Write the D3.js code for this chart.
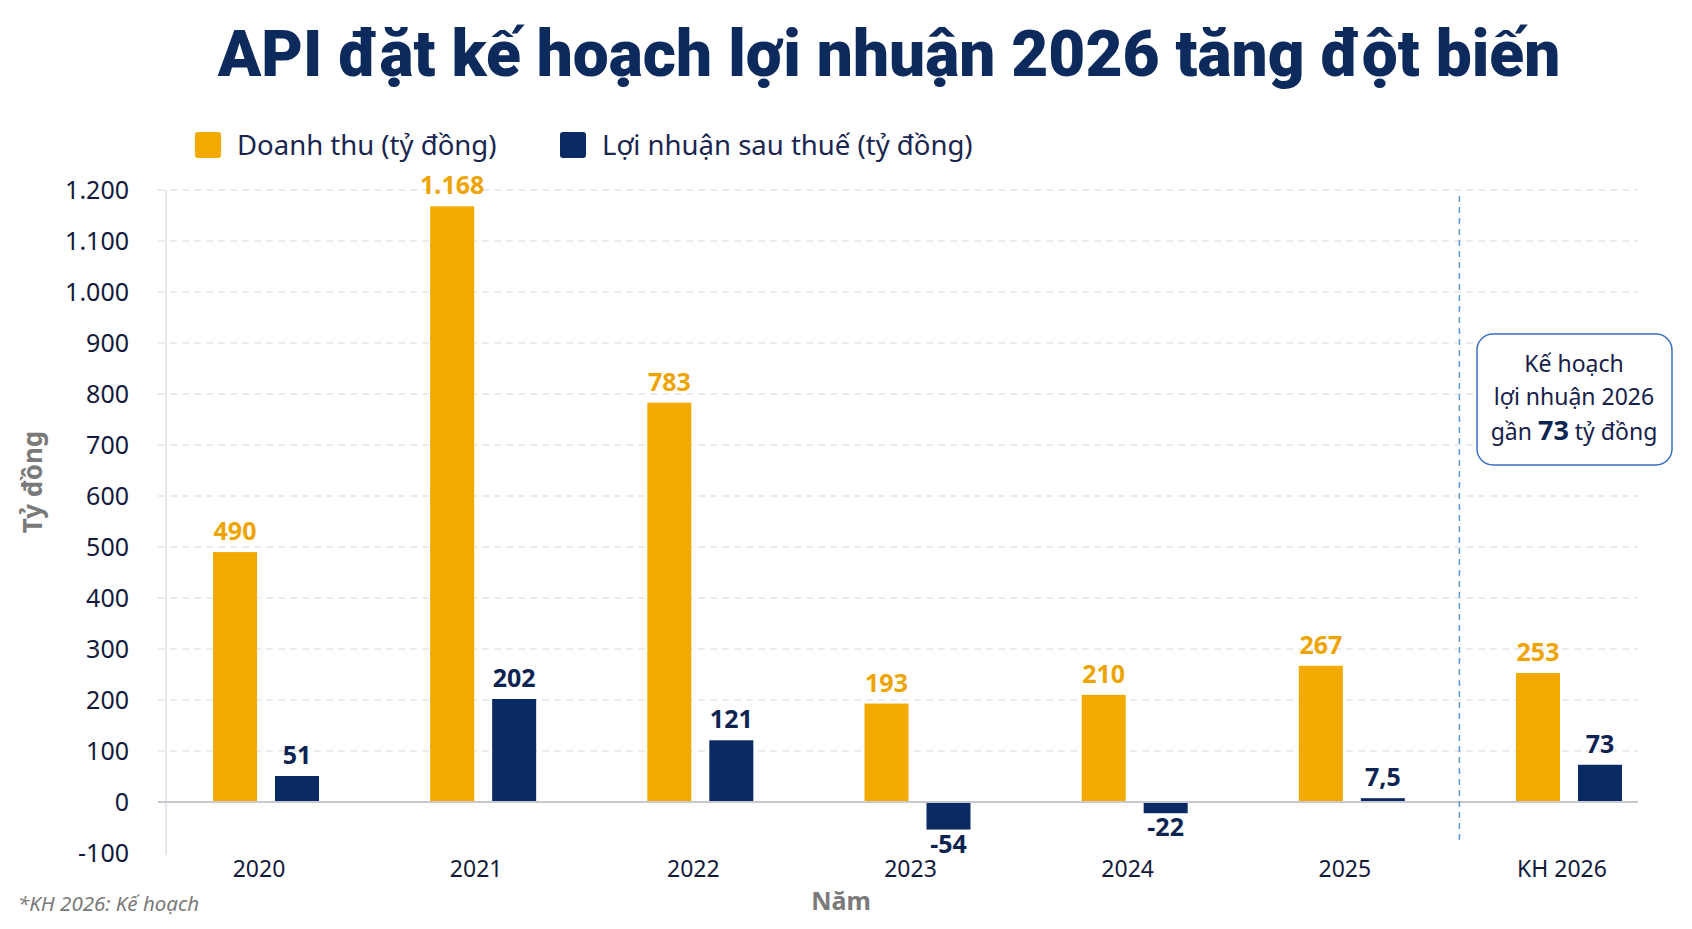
<!DOCTYPE html>
<html>
<head>
<meta charset="utf-8">
<script src="https://cdn.jsdelivr.net/npm/d3@7"></script>
<style>
  body { margin: 0; background: #fff; }
  svg { display: block; }
  text { font-family: "Noto Sans", "Open Sans", sans-serif; }
</style>
</head>
<body>
<script>
var years = ['2020', '2021', '2022', '2023', '2024', '2025', 'KH 2026'];
var revenue = [490, 1168, 783, 193, 210, 267, 253];
var profit = [51, 202, 121, -54, -22, 7.5, 73];
var seriesNames = ['Doanh thu (tỷ đồng)', 'Lợi nhuận sau thuế (tỷ đồng)'];
var yTicks = [-100, 0, 100, 200, 300, 400, 500, 600, 700, 800, 900, 1000, 1100, 1200];

var width = 1692, height = 929;
var orange = '#f2aa00', navy = '#0b2a63';
var orangeText = '#eea400', navyText = '#0d2452';

var vn = d3.formatLocale({ decimal: ',', thousands: '.', grouping: [3], currency: ['', ''], minus: '-' });
var fmt = function (d) { return Number.isInteger(d) ? vn.format(',')(d) : vn.format(',.1f')(d); };

var svg = d3.select('body').append('svg').attr('width', width).attr('height', height);

var y = d3.scaleLinear().domain([-100, 1200]).range([853, 190]);
var x0 = d3.scalePoint().domain(years).range([266, 1569]);
var x1 = d3.scaleBand().domain([0, 1]).range([-53, 53]).paddingInner(0.29);

var plotLeft = 158, plotRight = 1638;

// title
svg.append('text')
    .attr('x', 889).attr('y', 76)
    .attr('text-anchor', 'middle')
    .style('font-family', 'Roboto, sans-serif')
    .style('font-weight', 900)
    .style('font-size', '64px')
    .attr('fill', '#0d2a5c')
    .text('API đặt kế hoạch lợi nhuận 2026 tăng đột biến');

// legend
var legendX = [195, 560];
seriesNames.forEach(function (name, i) {
    svg.append('rect').attr('x', legendX[i]).attr('y', 132).attr('width', 26).attr('height', 26)
        .attr('rx', 3).attr('fill', i === 0 ? orange : navy);
    svg.append('text').attr('x', legendX[i] + 42).attr('y', 155)
        .style('font-size', '27.5px').attr('fill', '#1a2550').text(name);
});

// grid
svg.append('g').selectAll('line')
    .data(yTicks.filter(function (d) { return d > 0; }))
    .enter().append('line')
    .attr('x1', plotLeft).attr('x2', plotRight)
    .attr('y1', function (d) { return y(d); }).attr('y2', function (d) { return y(d); })
    .attr('stroke', '#d9d9d9').attr('stroke-width', 1.2).attr('stroke-dasharray', '7,5');

// y axis line
svg.append('line').attr('x1', 166).attr('x2', 166).attr('y1', y(1200)).attr('y2', y(-100) + 2)
    .attr('stroke', '#e0e0e4').attr('stroke-width', 1.5);

// y tick labels
var yAxis = svg.append('g').attr('transform', 'translate(129,0)')
    .call(d3.axisLeft(y).tickValues(yTicks).tickSize(0).tickPadding(0).tickFormat(fmt));
yAxis.select('.domain').remove();
yAxis.selectAll('text').style('font-size', '25px').attr('fill', '#141a3c')
    .style('font-family', '"Noto Sans", sans-serif');

// y title
svg.append('text').attr('transform', 'translate(42,482) rotate(-90)')
    .attr('text-anchor', 'middle').style('font-size', '26px').style('font-weight', 700)
    .attr('fill', '#7a7a7a').text('Tỷ đồng');

// bars
var groups = svg.append('g').selectAll('g')
    .data(years.map(function (yr, i) { return { year: yr, vals: [revenue[i], profit[i]] }; }))
    .enter().append('g')
    .attr('transform', function (d) { return 'translate(' + x0(d.year) + ',0)'; });

groups.selectAll('rect')
    .data(function (d) { return d.vals; })
    .enter().append('rect')
    .attr('x', function (d, i) { return x1(i); })
    .attr('width', x1.bandwidth())
    .attr('y', function (d) { return y(Math.max(0, d)); })
    .attr('height', function (d) { return Math.abs(y(d) - y(0)); })
    .attr('fill', function (d, i) { return i === 0 ? orange : navy; });

groups.selectAll('text.val')
    .data(function (d) { return d.vals; })
    .enter().append('text')
    .attr('class', 'val')
    .attr('x', function (d, i) { return x1(i) + x1.bandwidth() / 2; })
    .attr('y', function (d) { return d >= 0 ? y(d) - 12 : y(d) + 23; })
    .attr('text-anchor', 'middle')
    .style('font-size', '25px').style('font-weight', 700)
    .attr('fill', function (d, i) { return i === 0 ? orangeText : navyText; })
    .text(fmt);

// zero line
svg.append('line').attr('x1', plotLeft).attr('x2', plotRight).attr('y1', y(0)).attr('y2', y(0))
    .attr('stroke', '#c8c8d0').attr('stroke-width', 2);

// x labels (sit a little left of the group centre, as in the source)
svg.append('g').selectAll('text')
    .data(years).enter().append('text')
    .attr('x', function (d) { return x0(d) - 7; }).attr('y', 877)
    .attr('text-anchor', 'middle').style('font-size', '23px').attr('fill', '#141a3c')
    .text(function (d) { return d; });

svg.append('text').attr('x', 841).attr('y', 910).attr('text-anchor', 'middle')
    .style('font-size', '25px').style('font-weight', 700).attr('fill', '#7a7a7a').text('Năm');

svg.append('text').attr('x', 18).attr('y', 911)
    .style('font-size', '20.5px').style('font-style', 'italic').attr('fill', '#7a7a7a')
    .text('*KH 2026: Kế hoạch');

// divider before plan year
var divX = (x0('2025') + x0('KH 2026')) / 2 - 1;
svg.append('line').attr('x1', divX).attr('x2', divX).attr('y1', 196).attr('y2', 840)
    .attr('stroke', '#5d9ad8').attr('stroke-width', 1.5).attr('stroke-dasharray', '6,5');

// annotation
svg.append('rect').attr('x', 1477).attr('y', 334).attr('width', 195).attr('height', 131)
    .attr('rx', 16).attr('fill', '#fff').attr('stroke', '#3c6fc2').attr('stroke-width', 1.5);
var note = svg.append('text').attr('text-anchor', 'middle').style('font-size', '23px').attr('fill', '#16204a');
note.append('tspan').attr('x', 1574).attr('y', 372).text('Kế hoạch');
note.append('tspan').attr('x', 1574).attr('y', 405).text('lợi nhuận 2026');
var l3 = note.append('tspan').attr('x', 1574).attr('y', 440);
l3.append('tspan').text('gần ');
l3.append('tspan').style('font-weight', 700).style('font-size', '27px').attr('fill', navyText).text('73');
l3.append('tspan').text(' tỷ đồng');
</script>
</body>
</html>
